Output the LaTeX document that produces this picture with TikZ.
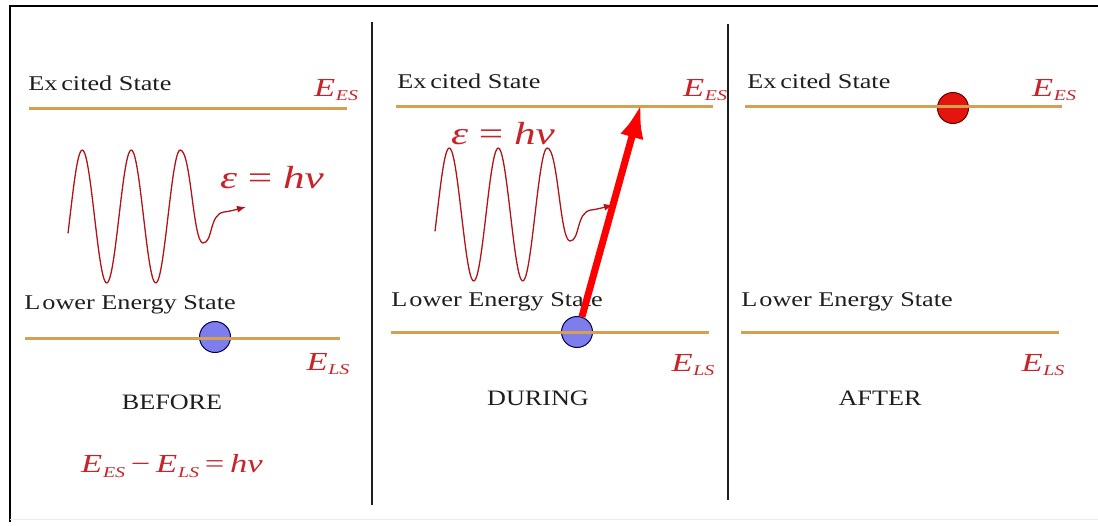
\documentclass[tikz,border=0pt]{standalone}
\usepackage{fontspec}
\setmainfont{Liberation Serif}
\usetikzlibrary{arrows.meta}
\definecolor{lvlcol}{RGB}{214,160,82}
\definecolor{lblred}{RGB}{200,35,40}
\definecolor{wavered}{RGB}{175,20,25}
\definecolor{ink}{RGB}{30,30,30}
\definecolor{lowball}{RGB}{125,125,235}
\definecolor{upball}{RGB}{228,20,15}
\newcommand{\Elvl}[1]{\textit{E}\kern0.02em\raisebox{-0.4ex}{\fontsize{15}{15}\selectfont\textit{#1}}}
\tikzset{
  lvltext/.style={text=ink,font=\fontsize{21}{25}\selectfont,xscale=1.25,transform shape,inner sep=0pt,anchor=west},
  phase/.style={text=ink,font=\fontsize{22}{26}\selectfont,xscale=1.19,transform shape,inner sep=0pt},
  elab/.style={text=lblred,font=\fontsize{26}{30}\selectfont,xscale=1.33,transform shape,inner sep=0pt},
  eqn/.style={text=lblred,font=\fontsize{32}{36}\selectfont,xscale=1.35,transform shape,inner sep=0pt},
  lvl/.style={draw=lvlcol,line width=3pt},
  ball/.style={circle,draw=blue!35!black,line width=1pt,minimum size=31pt,inner sep=0pt},
  wave/.style={draw=wavered,line width=1.3pt,line join=round},
  divider/.style={draw=ink,line width=1.6pt},
}

\begin{document}
\begin{tikzpicture}[x=1pt,y=-1pt]
\useasboundingbox (0,0) rectangle (1098,525);
\draw[draw=black,line width=2pt] (1098,6) -- (10,6) -- (10,522);
\draw[draw=black!8,line width=1pt] (10,519) -- (1098,519);

\coordinate (dv-0a) at (372,22);
\coordinate (dv-0b) at (372,505);
\coordinate (dv-1a) at (728,24);
\coordinate (dv-1b) at (728,500);
\draw[divider] (dv-0a) -- (dv-0b);
\draw[divider] (dv-1a) -- (dv-1b);

\node (ball-0) at (215,337) [ball,fill=lowball] {};
\node (ball-1) at (577,332) [ball,fill=lowball] {};
\node (ball-2) at (953,108) [ball,fill=upball,draw=red!40!black] {};

\draw[lvl] (29,108) -- (347,108);
\draw[lvl] (25,338) -- (340,338);
\draw[lvl] (396,106) -- (713,106);
\draw[lvl] (391,332) -- (709,332);
\draw[lvl] (745,106) -- (1062,106);
\draw[lvl] (741,332) -- (1059,332);

\node (es-0) at (28,83) [lvltext] {Ex\kern0.15em cited State};
\node (es-1) at (397,81) [lvltext] {Ex\kern0.15em cited State};
\node (es-2) at (747,81) [lvltext] {Ex\kern0.15em cited State};
\node (ls-0) at (24,305) [lvltext] {L\kern0.08em ower Energy State};
\node (ls-1) at (391,302) [lvltext] {L\kern0.08em ower Energy State};
\node (ls-2) at (741,302) [lvltext] {L\kern0.08em ower Energy State};

\node (ees-0) at (336,90) [elab] {\Elvl{ES}};
\node (ees-1) at (705,90) [elab] {\Elvl{ES}};
\node (ees-2) at (1054,90) [elab] {\Elvl{ES}};
\node (els-0) at (328,364) [elab] {\Elvl{LS}};
\node (els-1) at (693,365) [elab] {\Elvl{LS}};
\node (els-2) at (1043,365) [elab] {\Elvl{LS}};

\node (ph-0) at (172,402) [phase] {BEFORE};
\node (ph-1) at (538,398) [phase] {DURING};
\node (ph-2) at (880,398) [phase] {AFTER};

\node (ehv-0) at (272,178) [eqn] {\textit{ε}\kern0.25em=\kern0.25em\textit{hν}};
\node (ehv-1) at (503,134) [eqn] {\textit{ε}\kern0.25em=\kern0.25em\textit{hν}};
\node (bal-0) at (172,466) [elab] {\Elvl{ES}\,−\,\Elvl{LS}\,=\,\textit{hν}};

\draw[wave,-{Latex[length=9pt,width=7pt]}] plot[domain=68:180.25,samples=90,smooth] (\x,{216.5-66.5*sin(7.347*(\x-70))})
  .. controls (191,150) and (193,243) .. (203,243)
  .. controls (213,243) and (209,214) .. (224,212)
  .. controls (232,211) and (238,209) .. (246,207);
\draw[wave,shift={(367,-2)},-{Latex[length=9pt,width=7pt]}] plot[domain=68:180.25,samples=90,smooth] (\x,{216.5-66.5*sin(7.347*(\x-70))})
  .. controls (191,150) and (193,243) .. (203,243)
  .. controls (213,243) and (209,214) .. (224,212)
  .. controls (232,211) and (238,209) .. (246,207);

\coordinate (hit-1) at (641,104);
\draw[draw=red,line width=7pt,-{Latex[length=34pt,width=24pt]}] (ball-1.72) -- (hit-1);
\end{tikzpicture}
\end{document}
